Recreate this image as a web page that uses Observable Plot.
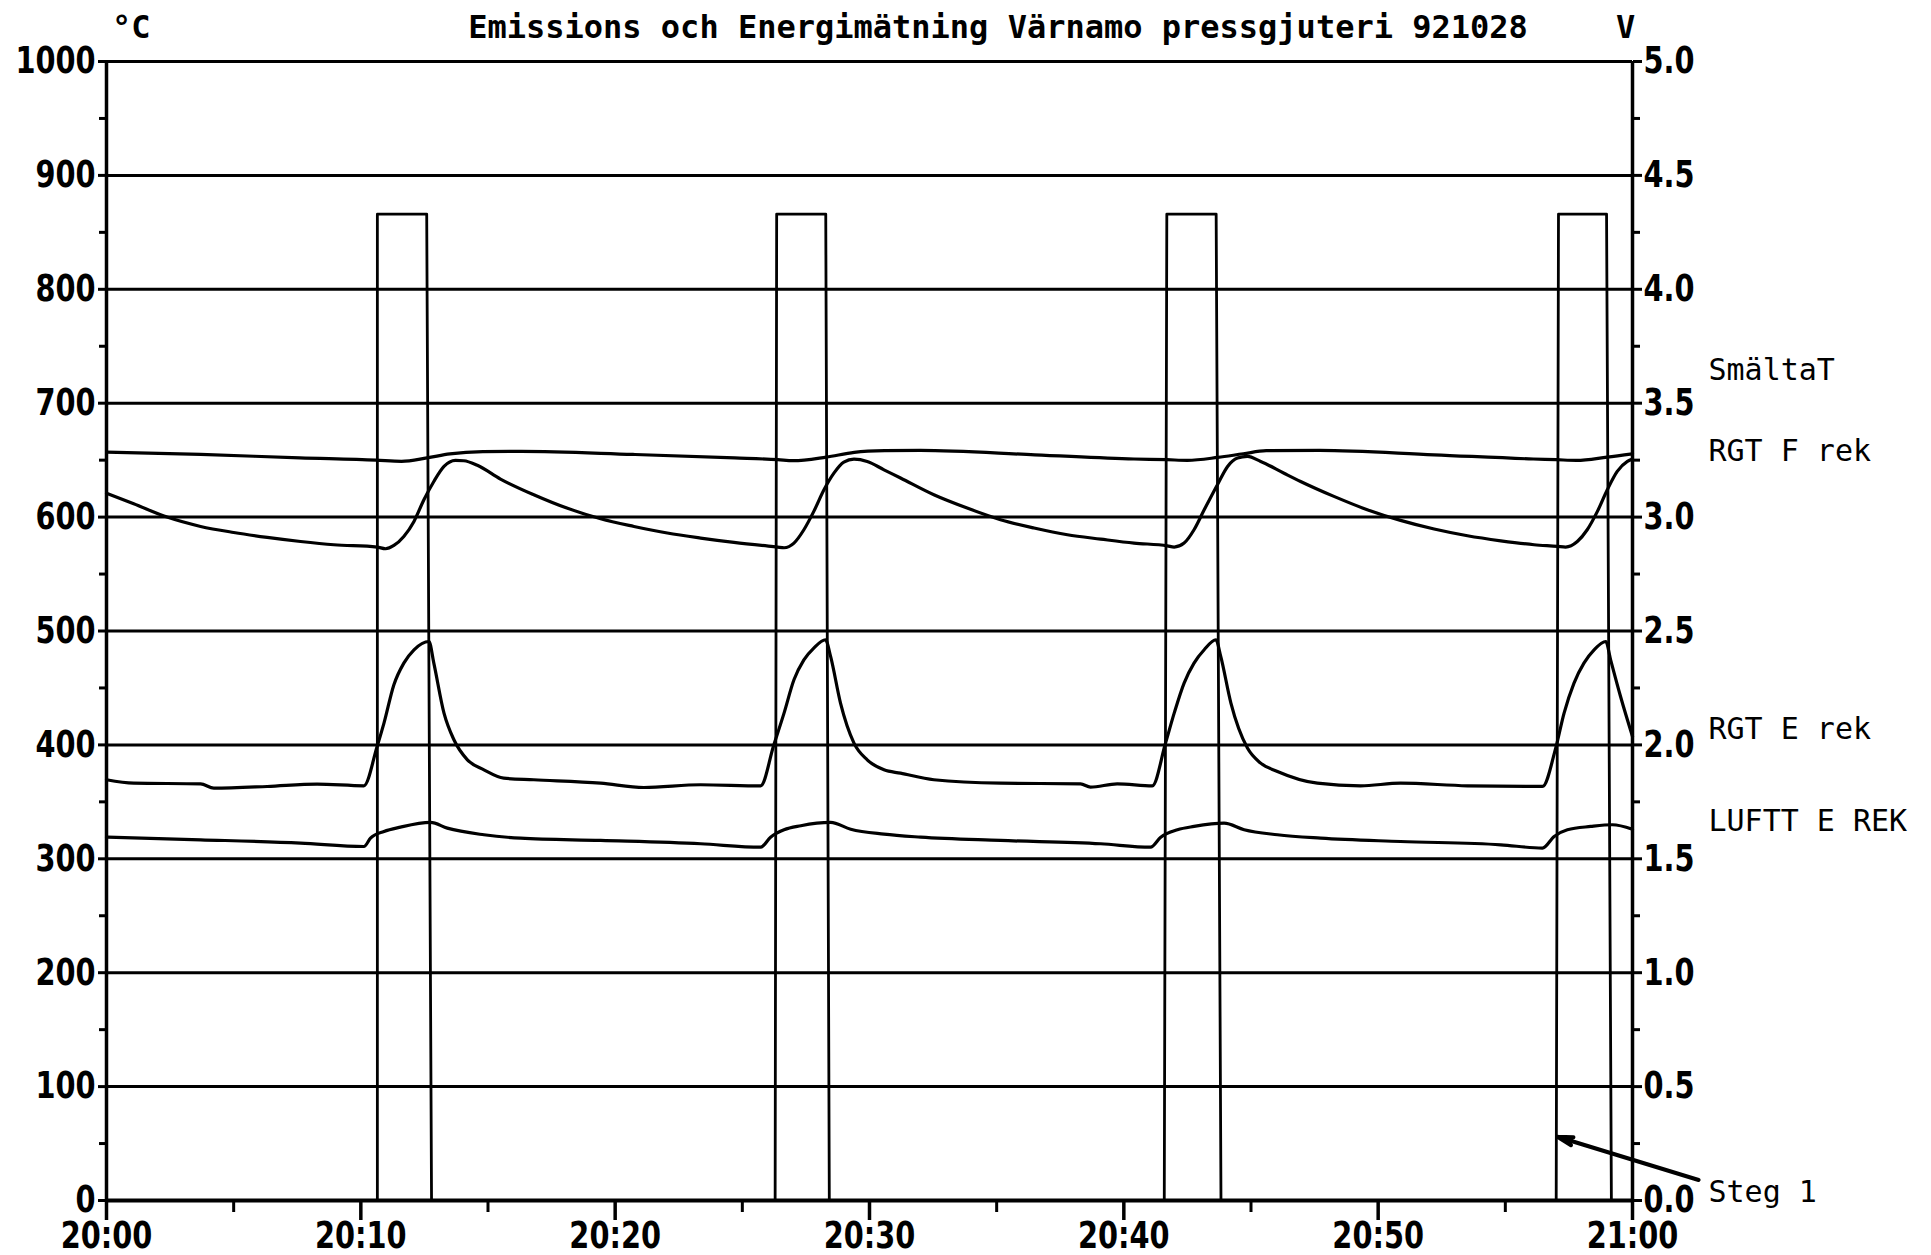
<!DOCTYPE html>
<html><head><meta charset="utf-8">
<script src="https://cdn.jsdelivr.net/npm/d3@7"></script>
<script src="https://cdn.jsdelivr.net/npm/@observablehq/plot@0.6"></script>
<style>
html,body{margin:0;padding:0;background:#fff;}
#wrap{position:relative;width:1931px;height:1255px;overflow:hidden;background:#fff;}
#head{position:relative;width:1931px;height:45px;font-family:"DejaVu Sans Mono",monospace;font-weight:bold;color:#000;}
#head span{position:absolute;top:11px;font-size:32px;line-height:32px;white-space:nowrap;}
#title{left:998px;transform:translateX(-50%);}
#unitL{left:112px;}
#unitR{left:1616px;}
</style></head><body>
<div id="wrap"><div id="head"><span id="unitL"></span><span id="title"></span><span id="unitR"></span></div><div id="chart"></div></div>
<script>
// ---------- text ----------
const titleText = "Emissions och Energimätning Värnamo pressgjuteri 921028";
const leftUnit = "°C";
const rightUnit = "V";

// ---------- axes ----------
const xTicks = [0, 10, 20, 30, 40, 50, 60];            // minutes after 20:00
const xTickLabels = ["20:00", "20:10", "20:20", "20:30", "20:40", "20:50", "21:00"];
const xMinorTicks = [5, 15, 25, 35, 45, 55];
const yTicks = [0, 100, 200, 300, 400, 500, 600, 700, 800, 900, 1000];
const yTickLabels = ["0", "100", "200", "300", "400", "500", "600", "700", "800", "900", "1000"];
const vTickLabels = ["0.0", "0.5", "1.0", "1.5", "2.0", "2.5", "3.0", "3.5", "4.0", "4.5", "5.0"];
const yMinorTicks = [50, 150, 250, 350, 450, 550, 650, 750, 850, 950];
const voltMax = 5, degMax = 1000;   // right axis 0–5 V shares the 0–1000 °C frame

// ---------- series: [minute, °C] ----------
const smaltaT = [[0,657],[3.7,655],[7.6,652],[10.6,650],[11.6,649],[12.6,652],[13.5,655.5],[14.8,657.5],[16.3,657.7],
  [20.7,655],[24.7,652],[26.4,650.4],[27.0,649.5],[28.3,652.7],[29.4,656.8],[30.6,658.3],[32,658.6],
  [36.5,654.7],[40.4,651],[41.7,650.4],[42.5,649.8],[43.7,652.4],[44.7,655.6],[45.6,658.3],[47.7,658.6],
  [52.2,654.7],[56.1,651],[57,650.4],[57.8,649.8],[59,652.7],[60,655.6]];

const rgtFrek = [[0,621],[1.07,611.7],[2.38,600],[3.7,591.8],[5.0,586.5],[6.32,582.2],[7.63,578.6],[8.94,575.7],
  [10.64,573.7],[10.97,572.2],[11.3,575.1],[11.69,583],[12.09,596.2],[12.48,615.2],[12.87,631.3],[13.27,644.5],
  [13.72,649.8],[14.05,649.5],[14.58,645.5],[15.49,633.4],[16.8,619.6],[18.1,607.9],[19.43,598.5],[20.74,591.8],
  [22.05,586],[23.36,581.6],[24.67,577.8],[26.38,573.7],[26.64,573.1],[27.03,577.2],[27.42,588.9],[27.81,605],
  [28.21,624],[28.6,638.6],[28.99,648.3],[29.39,650.9],[29.91,648.9],[30.57,641.5],[31.22,634.3],[32.53,619.6],
  [33.84,607.9],[35.15,597.7],[36.47,590.4],[37.78,584.5],[39.09,580.7],[40.4,577.2],[41.71,574.8],[41.98,573.7],
  [42.37,577.2],[42.76,588.9],[43.16,606.4],[43.68,628.4],[44.08,644.5],[44.47,651.8],[44.86,653.3],[45.38,648.9],
  [46.3,638.5],[46.95,631.3],[48.26,618.2],[49.57,606.5],[50.88,597.1],[52.2,589.5],[53.51,583.6],[54.82,579.2],
  [56.13,575.7],[57.05,574.3],[57.37,573.7],[57.83,578.6],[58.22,588.9],[58.62,605],[59.01,624],[59.4,640.1],
  [59.8,648.9],[60,650.9]];

const rgtErek = [[0,369.4],[1.07,366.4],[3.7,365.8],[4.22,362],[6.32,363.5],[8.28,365.6],[10.12,364.1],[10.64,398.6],
  [10.91,419.1],[11.3,452.8],[11.69,471.8],[12.09,483.5],[12.68,490.8],[12.87,471.8],[13.27,427.9],[13.66,404.5],
  [14.19,386.9],[14.84,378.1],[15.62,370.8],[16.8,369.4],[19.43,366.4],[21.13,362.6],[23.36,365],[25.72,364.1],
  [26.24,400.1],[26.64,427.9],[27.03,457.2],[27.42,474.7],[27.81,485],[28.27,492.3],[28.47,477.7],[28.86,436.7],
  [29.39,401.6],[29.91,386.9],[30.57,378.1],[31.22,375.2],[32.53,369.4],[35.15,366.4],[38.3,365.8],[38.69,362.9],
  [39.74,365.8],[41.12,364.1],[41.64,401.6],[41.98,427.9],[42.37,454.3],[42.76,471.8],[43.16,483.5],[43.62,492.3],
  [43.81,477.7],[44.21,436.7],[44.86,397.2],[45.38,384],[46.04,376.7],[47.61,366.4],[49.31,364.1],[50.88,366.4],
  [53.51,364.1],[56.46,363.5],[56.98,397.2],[57.31,427.9],[57.7,454.3],[58.09,471.8],[58.49,483.5],[58.95,490.8],
  [59.14,474.7],[59.53,442.5],[60,407.4]];

const lufttErek = [[0,319],[3.7,316.7],[7.63,313.8],[10.12,310.8],[10.38,318.1],[10.91,324],[11.56,327.8],[12.74,331.9],
  [13.4,326.9],[14.84,321.1],[16.28,318.1],[19.43,316.1],[23.36,313.2],[25.72,310.2],[26.11,319],[26.64,325.5],
  [27.3,329],[28.47,331.9],[29.26,326],[30.57,321.6],[32.01,319],[35.15,316.1],[39.09,313.2],[41.05,310.2],
  [41.45,319],[42.11,325.5],[42.76,328.4],[43.94,331.3],[44.73,325.5],[46.04,321.1],[47.74,318.1],[50.88,315.2],
  [54.82,312.3],[56.46,309.4],[56.92,319.6],[57.44,325.5],[58.36,328.4],[59.21,329.9],[60,326]];

// Steg 1 signal (volts)
const stegT = [0, 10.65, 10.65, 12.59, 12.78, 26.29, 26.35, 28.28, 28.42, 41.59, 41.69, 43.63, 43.82, 57.0, 57.09, 58.98, 59.17, 60];
const stegV = [0, 0, 4.33, 4.33, 0, 0, 4.33, 4.33, 0, 0, 4.33, 4.33, 0, 0, 4.33, 4.33, 0, 0];

// right-hand labels and the °C level they sit at
const seriesNames = ["SmältaT", "RGT F rek", "RGT E rek", "LUFTT E REK", "Steg 1"];
const labelLevel = [729, 658, 414, 333, 7];
// arrow from "Steg 1" label to the last step
const stegArrow = [{t1: 62.6, v1: 18, t2: 57.05, v2: 56}];

// ---------- build ----------
document.getElementById("title").textContent = titleText;
document.getElementById("unitL").textContent = leftUnit;
document.getElementById("unitR").textContent = rightUnit;

const stegRows = stegT.map((t, i) => ({t, v: stegV[i] * degMax / voltMax}));
const fmt = (labels) => (d) => labels[yTicks.indexOf(d)];
const tickFont = '"DejaVu Sans Condensed", "DejaVu Sans", sans-serif';
const labFont = '"DejaVu Sans Mono", monospace';
const line = (data) => Plot.line(data, {x: d => d[0], y: d => d[1], curve: "monotone-x", stroke: "black", strokeWidth: 3.2});

const chart = Plot.plot({
  width: 1931, height: 1210,
  marginTop: 16, marginBottom: 55, marginLeft: 106, marginRight: 299,
  x: {domain: [0, 60], label: null, axis: null},
  y: {domain: [0, 1000], label: null, axis: null},
  style: {background: "white", color: "black", overflow: "visible", fontFamily: tickFont},
  marks: [
    Plot.ruleY(yTicks, {stroke: "black", strokeWidth: 3}),
    Plot.ruleY([0], {stroke: "black", strokeWidth: 4}),
    Plot.ruleX([0, 60], {stroke: "black", strokeWidth: 3.5}),
    Plot.line(stegRows, {x: "t", y: "v", stroke: "black", strokeWidth: 2.8}),
    line(smaltaT), line(rgtFrek), line(rgtErek), line(lufttErek),
    Plot.axisY({anchor: "left", ticks: yTicks, tickSize: 8, tickPadding: 3, tickFormat: fmt(yTickLabels),
      fontSize: 32, fontWeight: "bold", fontFamily: tickFont, strokeWidth: 3}),
    Plot.axisY({anchor: "left", ticks: yMinorTicks, tickSize: 7, tickFormat: () => "", strokeWidth: 3}),
    Plot.axisY({anchor: "right", ticks: yTicks, tickSize: 9, tickPadding: 2, tickFormat: fmt(vTickLabels),
      fontSize: 32, fontWeight: "bold", fontFamily: tickFont, strokeWidth: 3}),
    Plot.axisY({anchor: "right", ticks: yMinorTicks, tickSize: 7, tickFormat: () => "", strokeWidth: 3}),
    Plot.axisX({anchor: "bottom", ticks: xTicks, tickSize: 20, tickPadding: 1,
      tickFormat: d => xTickLabels[xTicks.indexOf(d)], fontSize: 32, fontWeight: "bold", fontFamily: tickFont, strokeWidth: 3.5}),
    Plot.axisX({anchor: "bottom", ticks: xMinorTicks, tickSize: 12, tickFormat: () => "", strokeWidth: 3}),
    Plot.text(seriesNames, {x: () => 60, y: (d, i) => labelLevel[i], text: d => d, textAnchor: "start", dx: 76,
      fontSize: 30, fontFamily: labFont, fill: "black"}),
    Plot.arrow(stegArrow, {x1: "t1", y1: "v1", x2: "t2", y2: "v2", bend: 0, headLength: 6, headAngle: 30,
      stroke: "black", strokeWidth: 4})
  ]
});

// make tick numerals tall and narrow like the plotter font
d3.select(chart).selectAll('g[aria-label$="tick label"] text').each(function () {
  const tr = this.getAttribute("transform");
  if (tr) this.setAttribute("transform", tr + " scale(1,1.16)");
});
document.getElementById("chart").appendChild(chart);
</script>
</body></html>
